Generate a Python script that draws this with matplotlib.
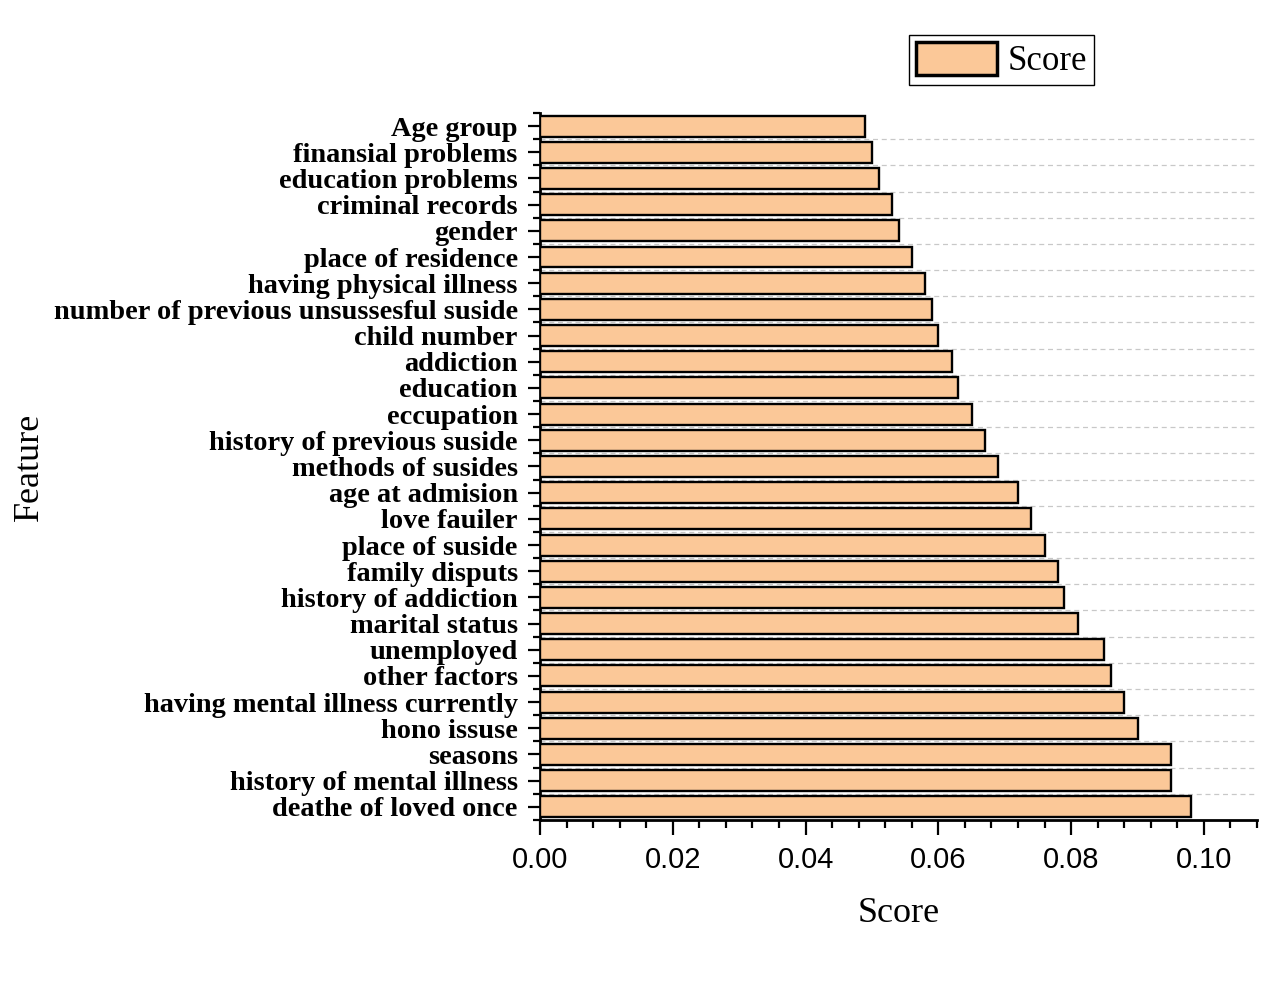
import matplotlib.pyplot as plt
from matplotlib.ticker import MultipleLocator, FixedLocator
import numpy as np

features = [
    'Age group', 'finansial problems', 'education problems', 'criminal records',
    'gender', 'place of residence', 'having physical illness',
    'number of previous unsussesful suside', 'child number', 'addiction',
    'education', 'eccupation', 'history of previous suside', 'methods of susides',
    'age at admision', 'love fauiler', 'place of suside', 'family disputs',
    'history of addiction', 'marital status', 'unemployed', 'other factors',
    'having mental illness currently', 'hono issuse', 'seasons',
    'history of mental illness', 'deathe of loved once',
]
scores = [
    0.049, 0.050, 0.051, 0.053, 0.054, 0.056, 0.058, 0.059, 0.060, 0.062,
    0.063, 0.065, 0.067, 0.069, 0.072, 0.074, 0.076, 0.078, 0.079, 0.081,
    0.085, 0.086, 0.088, 0.090, 0.095, 0.095, 0.098,
]

serif = ['Liberation Serif', 'DejaVu Serif']
sans = ['Liberation Sans', 'DejaVu Sans']

fig = plt.figure(figsize=(12.87, 9.86), dpi=100)
ax = fig.add_axes([0.4196, 0.1684, 0.5571, 0.7170])

pos = np.arange(len(features))
bars = ax.barh(pos, scores, height=0.8, color='#FBC898', edgecolor='black',
               linewidth=1.7, label='Score', zorder=3)

ax.set_xlim(0, 0.108)
ax.set_ylim(len(features) - 0.5, -0.5)

ax.set_yticks(pos)
ax.set_yticklabels(features, family=serif, fontweight='bold', fontsize=20.4)
ax.yaxis.set_minor_locator(FixedLocator(np.arange(-0.5, len(features), 1.0)))
ax.xaxis.set_major_locator(MultipleLocator(0.02))
ax.xaxis.set_minor_locator(MultipleLocator(0.004))
ax.xaxis.set_major_formatter(plt.FormatStrFormatter('%.2f'))
for lab in ax.get_xticklabels():
    lab.set_family(sans)
    lab.set_fontsize(21)

ax.tick_params(axis='y', which='major', length=9, width=1.6, pad=7)
ax.tick_params(axis='y', which='minor', length=5, width=1.6)
ax.tick_params(axis='x', which='major', length=11, width=1.6, pad=8)
ax.tick_params(axis='x', which='minor', length=6, width=1.6)

ax.grid(True, axis='y', which='minor', linestyle=(0, (4, 3)), color='#c8c8c8',
        linewidth=0.9, zorder=0)
# no dashed line along the top edge
ax.yaxis.get_minor_ticks()[0].gridline.set_visible(False)

for side in ['top', 'right']:
    ax.spines[side].set_visible(False)
for side in ['left', 'bottom']:
    ax.spines[side].set_linewidth(2)

ax.set_xlabel('Score', family=serif, fontsize=26, labelpad=16)
ax.set_ylabel('Feature', family=serif, fontsize=26)
ax.yaxis.set_label_coords(-0.689, 0.5, transform=ax.transAxes)

leg = fig.legend(handles=[bars], labels=['Score'], loc='upper left',
                 bbox_to_anchor=(0.706, 0.9645), prop={'family': serif, 'size': 25},
                 frameon=True, fancybox=False, edgecolor='black', framealpha=1,
                 handlelength=2.35, handleheight=1.1, borderpad=0.2,
                 handletextpad=0.3, borderaxespad=0)
leg.get_frame().set_linewidth(1.0)
for p in leg.get_patches():
    p.set_linewidth(2.5)

fig.savefig('out.png', dpi=100)
